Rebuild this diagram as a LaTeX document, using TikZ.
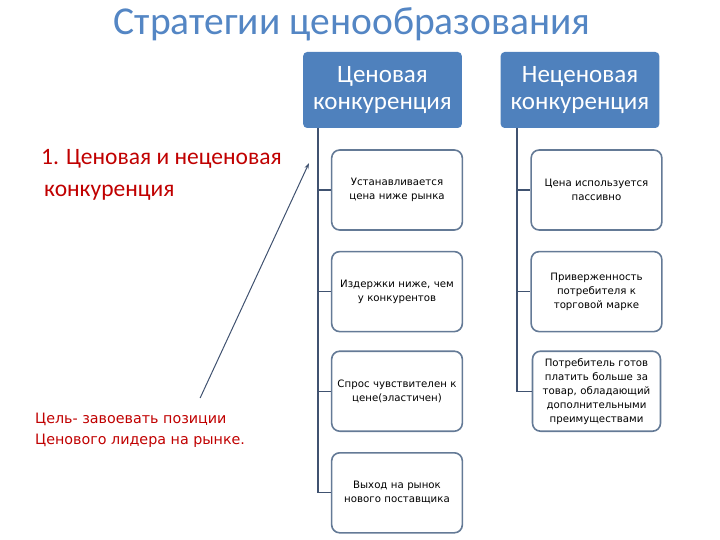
\documentclass[tikz,border=0pt]{standalone}
\usepackage{fontspec}
\setmainfont{Carlito}
\newfontfamily\smallsans{DejaVu Sans}
\usetikzlibrary{positioning,arrows.meta}
\definecolor{headblue}{RGB}{79,129,189}
\definecolor{titleblue}{RGB}{84,134,196}
\definecolor{busgray}{RGB}{64,82,112}
\definecolor{framegray}{RGB}{100,122,150}
\definecolor{notered}{RGB}{192,0,0}

\begin{document}
\begin{tikzpicture}[
        x=1pt, y=-1pt,
        node distance=20pt,
        head/.style={rectangle, rounded corners=4pt, fill=headblue, text=white,
                     minimum width=156pt, minimum height=76pt, text width=152pt,
                     align=center, font=\fontsize{25}{27}\selectfont},
        item/.style={rectangle, rounded corners=8pt, draw=framegray, line width=1.6pt,
                     fill=white, minimum width=128pt, minimum height=80pt, text width=124pt,
                     align=center, font=\smallsans\fontsize{10.2}{14}\selectfont},
        link/.style={draw=busgray, line width=1.3pt},
        pointer/.style={-{Stealth[length=6pt,width=4pt]}, draw=busgray, line width=1pt},
        note/.style={text=notered, align=left, inner sep=0pt}
    ]
        \useasboundingbox (0,0) rectangle (720,540);

        % title
        \node[text=titleblue, font=\fontsize{39.5}{42}\selectfont] (title) at (352,24) {Стратегии ценообразования};

        % headers
        \node[head] (price) at (382.5,90) {Ценовая\\конкуренция};
        \node[head] (nonprice) at (580,90) {Неценовая\\конкуренция};

        % price competition column
        \node[item] (p1) at (397,190) {Устанавливается\\цена ниже рынка};
        \node[item, below=of p1] (p2) {Издержки ниже, чем\\у конкурентов};
        \node[item, below=18pt of p2] (p3) {Спрос чувствителен к\\цене(эластичен)};
        \node[item, below=of p3] (p4) {Выход на рынок\\нового поставщика};

        % non-price competition column
        \node[item] (n1) at (596.5,190) {Цена используется\\пассивно};
        \node[item, below=of n1] (n2) {Приверженность\\потребителя к\\торговой марке};
        \node[item, below=18pt of n2, text width=118pt] (n3) {Потребитель готов платить больше за товар, обладающий дополнительными преимуществами};

        % buses
        \coordinate (pbus) at (318,128);
        \coordinate (nbus) at (517,128);
        \draw[link] (pbus) |- (p4.west);
        \foreach \k in {p1,p2,p3}
            \draw[link] (pbus |- \k.west) -- (\k.west);
        \draw[link] (nbus) |- (n3.west);
        \foreach \k in {n1,n2}
            \draw[link] (nbus |- \k.west) -- (\k.west);

        % left notes
        \node[note, anchor=north west, font=\fontsize{23.5}{32}\selectfont] (topic) at (41,149)
            {1. Ценовая и неценовая\\\hspace*{3pt}конкуренция};
        \node[note, anchor=north west, font=\smallsans\fontsize{14.3}{21}\selectfont] (goal) at (35,413)
            {Цель- завоевать позиции\\Ценового лидера на рынке.};
        \coordinate (tip) at (309,163);
        \draw[pointer] ([xshift=60pt,yshift=15pt]goal.north) -- (tip);
    \end{tikzpicture}
\end{document}
